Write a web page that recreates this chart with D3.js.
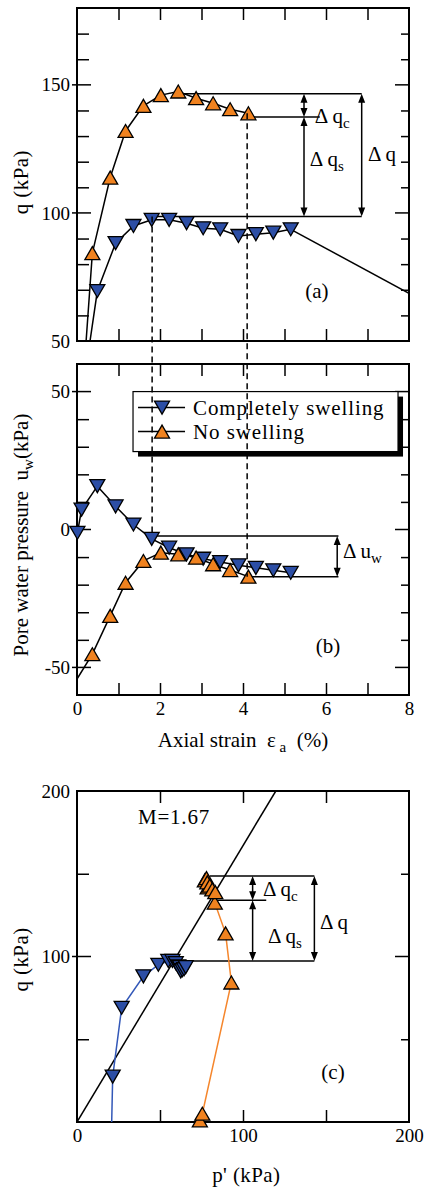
<!DOCTYPE html>
<html>
<head>
<meta charset="utf-8">
<script src="https://cdn.jsdelivr.net/npm/d3@7"></script>
<style>
  body { margin: 0; background: #fff; }
  text { white-space: pre; }
</style>
</head>
<body>
<script>
// data
// No swelling (orange, up triangles) -- first point is the unmarked start of the curve
const strainNS = [0, 0.37, 0.80, 1.17, 1.60, 2.02, 2.44, 2.87, 3.28, 3.69, 4.13];
const qNS      = [0, 84.3, 113.8, 132, 141.8, 146, 147.4, 144.8, 142.8, 140.5, 138.9];
const uwNS     = [-54.2, -45.2, -31.3, -19.3, -11.4, -8.4, -9.0, -10.2, -12.6, -14.7, -17.1];

// Completely swelling (blue, down triangles)
const strainCS = [0.01, 0.11, 0.49, 0.93, 1.36, 1.80, 2.22, 2.64, 3.04, 3.45, 3.89, 4.31, 4.73, 5.15];
const qCS      = [0, 27.4, 69.5, 88.2, 94.9, 97.3, 97.3, 96, 94, 93.6, 91, 91.7, 92.3, 93.6];
const uwCS     = [-1.2, 7.2, 15.7, 8.4, 1.8, -3.4, -6.6, -9.0, -10.6, -11.8, -13.0, -13.9, -14.8, -15.7];
// post-peak tail of the swelling curve in (a)
const tailStrain = [5.15, 8.0];
const tailQ      = [93.6, 68.6];

// stress path (c)
const pCS  = [20.9, 21.5, 26.9, 40, 49, 55, 57.5, 59.5, 61, 62, 62.5, 63.5, 64.5, 65.5];
const qCSc = [0, 27.4, 69, 88, 95, 97.3, 97.3, 96, 94, 93.6, 91, 91.7, 92.3, 93.6];
const pNS  = [74, 75.5, 93, 89.5, 83, 78.7, 77, 78, 78.5, 80, 81.5, 83.3];
const qNSc = [1, 5, 84.3, 114, 132.5, 141.8, 146, 147.4, 144.8, 142.8, 140.5, 138.9];
const slopeM = 1.67;

// tick values
const strainTicks = [0, 1, 2, 3, 4, 5, 6, 7, 8];
const strainLabels = [0, 2, 4, 6, 8];
const qTicksA = [60, 70, 80, 90, 100, 110, 120, 130, 140, 150, 160, 170];
const qLabelsA = [50, 100, 150];
const uwTicks = [-50, -40, -30, -20, -10, 0, 10, 20, 30, 40, 50];
const uwLabels = [-50, 0, 50];
const pTicks = [50, 100, 150];
const pLabels = [0, 100, 200];
const qLabelsC = [100, 200];

const blue = "#2c4ea5", orange = "#f0821f";
const blueLine = "#3358b8", orangeLine = "#f5862c";
const font = "'Liberation Serif', 'Times New Roman', serif";

const width = 425, height = 1187;
const svg = d3.select("body").append("svg")
    .attr("width", width).attr("height", height)
    .style("font-family", font);

// scales
const xA = d3.scaleLinear().domain([0, 8]).range([77, 409]);
const yA = d3.scaleLinear().domain([50, 180]).range([341, 8]);
const yB = d3.scaleLinear().domain([-60, 60]).range([695, 364]);
const xC = d3.scaleLinear().domain([0, 200]).range([77, 409]);
const yC = d3.scaleLinear().domain([0, 200]).range([1122, 791]);

// triangle markers
const tri = function (up) {
  const s = 7.5, h = 6.5;
  return up ? `M${-s},${h}L${s},${h}L0,${-h}Z` : `M${-s},${-h}L${s},${-h}L0,${h}Z`;
};

function styleAxis(g, size) {
  g.attr("font-family", font).attr("font-size", size);
  g.select(".domain").remove();
  g.selectAll("line").attr("stroke", "#000").attr("stroke-width", 1.5);
  g.selectAll("text").attr("fill", "#000");
}

// frame with inward ticks on all four sides
function frame(x, y, xt, yt, ymajor) {
  const [x0, x1] = x.range(), [y0, y1] = y.range();
  const inner = xt.filter(d => d > x.domain()[0] && d < x.domain()[1]);
  svg.append("g").attr("transform", `translate(0,${y0})`)
    .call(d3.axisBottom(x).tickValues(inner).tickSize(-12).tickFormat(""))
    .call(g => styleAxis(g, 19));
  svg.append("g").attr("transform", `translate(0,${y1})`)
    .call(d3.axisTop(x).tickValues(inner).tickSize(-12).tickFormat(""))
    .call(g => styleAxis(g, 19));
  svg.append("g").attr("transform", `translate(${x0},0)`)
    .call(d3.axisLeft(y).tickValues(yt.filter(d => !ymajor.includes(d))).tickSize(-12).tickFormat(""))
    .call(g => styleAxis(g, 19));
  svg.append("g").attr("transform", `translate(${x1},0)`)
    .call(d3.axisRight(y).tickValues(yt.filter(d => !ymajor.includes(d))).tickSize(-8).tickFormat(""))
    .call(g => styleAxis(g, 19));
  // major y ticks, longer, poking out on the left
  const maj = ymajor.filter(d => d > y.domain()[0] && d < y.domain()[1]);
  svg.append("g").selectAll("line").data(maj).join("line")
    .attr("x1", x0 - 5).attr("x2", x0 + 14).attr("y1", d => y(d)).attr("y2", d => y(d))
    .attr("stroke", "#000").attr("stroke-width", 1.5);
  svg.append("g").selectAll("line").data(maj).join("line")
    .attr("x1", x1 - 14).attr("x2", x1).attr("y1", d => y(d)).attr("y2", d => y(d))
    .attr("stroke", "#000").attr("stroke-width", 1.5);
  svg.append("rect")
    .attr("x", x0).attr("y", y1).attr("width", x1 - x0).attr("height", y0 - y1)
    .attr("fill", "none").attr("stroke", "#000").attr("stroke-width", 2);
}

function yLabels(x, y, vals) {
  svg.append("g").attr("transform", `translate(${x.range()[0]},0)`)
    .call(d3.axisLeft(y).tickValues(vals).tickSize(0).tickPadding(7).tickFormat(d => String(d)))
    .call(g => styleAxis(g, 19));
}
function xLabels(x, y, vals) {
  svg.append("g").attr("transform", `translate(0,${y.range()[0]})`)
    .call(d3.axisBottom(x).tickValues(vals).tickSize(0).tickPadding(7).tickFormat(d => String(d)))
    .call(g => styleAxis(g, 19));
}

function clip(id, x, y) {
  svg.append("clipPath").attr("id", id).append("rect")
    .attr("x", x.range()[0]).attr("y", y.range()[1])
    .attr("width", x.range()[1] - x.range()[0]).attr("height", y.range()[0] - y.range()[1]);
}

function curve(id, xs, ys, x, y, color, w) {
  const line = d3.line().x(d => x(d[0])).y(d => y(d[1]));
  svg.append("path")
    .attr("clip-path", `url(#${id})`)
    .attr("fill", "none").attr("stroke", color).attr("stroke-width", w)
    .attr("d", line(d3.zip(xs, ys)));
}

function markers(xs, ys, x, y, up, color, from) {
  svg.append("g").selectAll("path").data(d3.zip(xs, ys).slice(from)).join("path")
    .attr("transform", d => `translate(${x(d[0])},${y(d[1])})`)
    .attr("d", tri(up))
    .attr("fill", color).attr("stroke", "#000").attr("stroke-width", 1.3);
}

function hline(x1, x2, yv) {
  svg.append("line").attr("x1", x1).attr("x2", x2).attr("y1", yv).attr("y2", yv)
    .attr("stroke", "#000").attr("stroke-width", 1.5);
}

// vertical double-headed arrow
function arrow(xv, ya, yb) {
  const top = Math.min(ya, yb), bot = Math.max(ya, yb), hl = 9, hw = 3.5;
  svg.append("line").attr("x1", xv).attr("x2", xv).attr("y1", top + 3).attr("y2", bot - 3)
    .attr("stroke", "#000").attr("stroke-width", 1.5);
  svg.append("path").attr("fill", "#000")
    .attr("d", `M${xv},${top}L${xv - hw},${top + hl}L${xv + hw},${top + hl}Z M${xv},${bot}L${xv - hw},${bot - hl}L${xv + hw},${bot - hl}Z`);
}

function deltaLabel(px, py, main, sub) {
  const t = svg.append("text").attr("x", px).attr("y", py).attr("font-size", 21).text(main);
  if (sub) t.append("tspan").attr("font-size", 15).attr("dy", 5).text(sub);
}

// ---------- panel (a) ----------
clip("clipA", xA, yA);
frame(xA, yA, strainTicks, qTicksA, qLabelsA);
yLabels(xA, yA, qLabelsA);
svg.append("text").attr("transform", `translate(28,${yA(112)}) rotate(-90)`)
  .attr("text-anchor", "middle").attr("font-size", 21).attr("letter-spacing", 0.4).text("q (kPa)");

// delta-q annotations
hline(xA(2.44), xA(6.86), yA(146.5));
hline(xA(4.10), xA(5.85), yA(137.4));
hline(xA(1.81), xA(6.86), yA(98.6));
arrow(xA(5.47), yA(146.5), yA(137.4));
arrow(xA(5.47), yA(137.4), yA(98.6));
arrow(xA(6.86), yA(146.5), yA(98.6));
deltaLabel(xA(5.73), yA(135.2), "Δ q", "c");
deltaLabel(xA(5.61), yA(118.4), "Δ q", "s");
deltaLabel(xA(7.01), yA(120.3), "Δ q", "");
svg.append("text").attr("x", xA(5.78)).attr("y", yA(66.8)).attr("text-anchor", "middle")
  .attr("font-size", 21).text("(a)");

curve("clipA", strainCS, qCS, xA, yA, "#000", 1.5);
curve("clipA", tailStrain, tailQ, xA, yA, "#000", 1.5);
curve("clipA", strainNS, qNS, xA, yA, "#000", 1.5);
markers(strainCS, qCS, xA, yA, false, blue, 2);
markers(strainNS, qNS, xA, yA, true, orange, 1);

// ---------- panel (b) ----------
clip("clipB", xA, yB);
frame(xA, yB, strainTicks, uwTicks, uwLabels);
yLabels(xA, yB, uwLabels);
xLabels(xA, yB, strainLabels);

const yl = svg.append("text").attr("transform", `translate(28,${yB(-2)}) rotate(-90)`)
  .attr("text-anchor", "middle").attr("font-size", 21);
yl.append("tspan").text("Pore water pressure  u");
yl.append("tspan").attr("font-size", 15).attr("dy", 5).text("w");
yl.append("tspan").attr("dy", -5).text("(kPa)");

const xl = svg.append("text").attr("x", xA(4)).attr("y", 747)
  .attr("text-anchor", "middle").attr("font-size", 21);
xl.append("tspan").text("Axial strain  ε");
xl.append("tspan").attr("font-size", 15).attr("dy", 5).text(" a");
xl.append("tspan").attr("dy", -5).text("  (%)");

hline(xA(1.81), xA(6.3), yB(-2.4));
hline(xA(4.13), xA(6.3), yB(-17.1));
arrow(xA(6.27), yB(-2.4), yB(-17.1));
deltaLabel(xA(6.41), yB(-10.5), "Δ u", "w");
svg.append("text").attr("x", xA(6.05)).attr("y", yB(-44.8)).attr("text-anchor", "middle")
  .attr("font-size", 21).text("(b)");

curve("clipB", strainCS, uwCS, xA, yB, "#000", 1.5);
curve("clipB", strainNS, uwNS, xA, yB, "#000", 1.5);
markers(strainCS, uwCS, xA, yB, false, blue, 0);
markers(strainNS, uwNS, xA, yB, true, orange, 1);

// legend with drop shadow
const lx = xA(1.35), ly = yB(50), lw = 265, lh = 60;
svg.append("rect").attr("x", lx + 5).attr("y", ly + 5).attr("width", lw).attr("height", lh).attr("fill", "#000");
svg.append("rect").attr("x", lx).attr("y", ly).attr("width", lw).attr("height", lh)
  .attr("fill", "#fff").attr("stroke", "#000").attr("stroke-width", 1.2);
const legendItems = [
  {name: "Completely swelling", color: blue, up: false},
  {name: "No swelling", color: orange, up: true}
];
legendItems.forEach((d, i) => {
  const cy = ly + 16 + i * 24;
  svg.append("line").attr("x1", lx + 5).attr("x2", lx + 52).attr("y1", cy).attr("y2", cy)
    .attr("stroke", "#000").attr("stroke-width", 1.5);
  svg.append("path").attr("transform", `translate(${lx + 29},${cy})`).attr("d", tri(d.up))
    .attr("fill", d.color).attr("stroke", "#000").attr("stroke-width", 1.3);
  svg.append("text").attr("x", lx + 60).attr("y", cy + 7).attr("font-size", 21)
    .attr("letter-spacing", 0.9).text(d.name);
});

// dashed guides linking (a) and (b)
const guides = [{e: 1.81, q: 98.6, uw: -2.4}, {e: 4.1, q: 138.9, uw: -17.1}];
svg.append("g").selectAll("line").data(guides).join("line")
  .attr("x1", d => xA(d.e)).attr("x2", d => xA(d.e))
  .attr("y1", d => yA(d.q)).attr("y2", d => yB(d.uw))
  .attr("stroke", "#000").attr("stroke-width", 1.5).attr("stroke-dasharray", "6,4");

// ---------- panel (c) ----------
clip("clipC", xC, yC);
frame(xC, yC, pTicks, pTicks, [100]);
yLabels(xC, yC, qLabelsC);
xLabels(xC, yC, pLabels);
svg.append("text").attr("transform", `translate(28,${yC(100) + 3}) rotate(-90)`)
  .attr("text-anchor", "middle").attr("font-size", 21).attr("letter-spacing", 0.4).text("q (kPa)");
svg.append("text").attr("x", xC(102)).attr("y", 1182).attr("text-anchor", "middle")
  .attr("font-size", 21).attr("letter-spacing", 0.4).text("p' (kPa)");

curve("clipC", [0, 200 / slopeM], [0, 200], xC, yC, "#000", 1.5);
svg.append("text").attr("x", xC(36.7)).attr("y", yC(180)).attr("font-size", 21)
  .attr("letter-spacing", 0.8).text("M=" + slopeM);

hline(xC(80), xC(143), yC(148.6));
hline(xC(82.7), xC(114), yC(134));
hline(xC(56), xC(143), yC(97.3));
arrow(xC(105.8), yC(148.6), yC(134));
arrow(xC(105.8), yC(134), yC(97.3));
arrow(xC(143), yC(148.6), yC(97.3));
deltaLabel(xC(112), yC(136.6), "Δ q", "c");
deltaLabel(xC(115), yC(108.2), "Δ q", "s");
deltaLabel(xC(146.4), yC(116.6), "Δ q", "");
svg.append("text").attr("x", xC(154.2)).attr("y", yC(26)).attr("text-anchor", "middle")
  .attr("font-size", 21).text("(c)");

curve("clipC", pCS, qCSc, xC, yC, blueLine, 1.5);
curve("clipC", pNS, qNSc, xC, yC, orangeLine, 1.5);
markers(pCS, qCSc, xC, yC, false, blue, 1);
markers(pNS, qNSc, xC, yC, true, orange, 0);
</script>
</body>
</html>
